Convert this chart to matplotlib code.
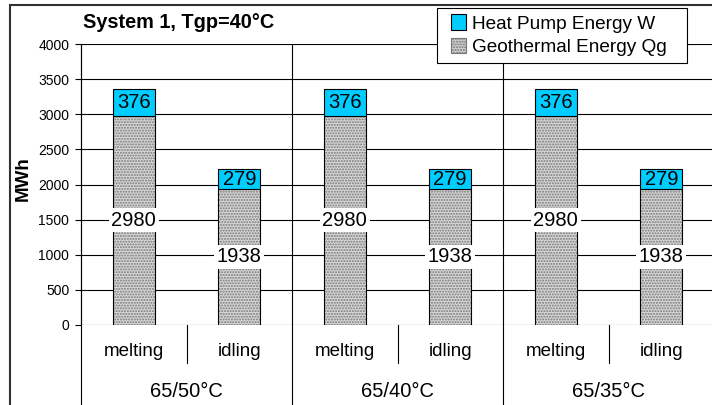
import matplotlib
matplotlib.use("Agg")
import matplotlib.pyplot as plt
from matplotlib.patches import Rectangle, Patch
from matplotlib.lines import Line2D
from matplotlib.legend_handler import HandlerPatch

plt.rcParams['font.family'] = ['Liberation Sans', 'DejaVu Sans']

# data
groups = ['65/50°C', '65/40°C', '65/35°C']
modes = ['melting', 'idling']
geothermal = [2980, 1938, 2980, 1938, 2980, 1938]
heat_pump = [376, 279, 376, 279, 376, 279]
yticks = [0, 500, 1000, 1500, 2000, 2500, 3000, 3500, 4000]

W, H = 712, 405
fig = plt.figure(figsize=(W / 100, H / 100), dpi=100)
ax = fig.add_axes([81 / W, (H - 325) / H, (714 - 81) / W, (325 - 44) / H])

x = [i + 0.5 for i in range(len(geothermal))]
cyan = '#00CCFF'
dots = '#777777'

# geothermal (stippled grey) bars
ax.bar(x, geothermal, width=0.4, color='#d8d8d8', edgecolor=dots,
       hatch='......', linewidth=0, zorder=3)
ax.bar(x, geothermal, width=0.4, fill=False, edgecolor='black', linewidth=0.8, zorder=4)
# heat pump bars on top
ax.bar(x, heat_pump, bottom=geothermal, width=0.4, color=cyan,
       edgecolor='black', linewidth=0.8, zorder=4)

for xi, g, h in zip(x, geothermal, heat_pump):
    ax.text(xi, g / 2, str(g), ha='center', va='center', fontsize=14.5, zorder=6,
            bbox=dict(boxstyle='square,pad=0.12', facecolor='white', edgecolor='none'))
    ax.text(xi, g + h / 2, str(h), ha='center', va='center', fontsize=14.5, zorder=6)

ax.set_xlim(0, 6)
ax.set_ylim(0, 4000)
ax.set_yticks(yticks)
ax.set_yticklabels([str(t) for t in yticks], fontsize=10)
ax.set_xticks([])
ax.tick_params(axis='y', direction='out', length=4.5, width=0.8, pad=4)
for t in yticks:
    ax.axhline(t, color='black', lw=0.8, zorder=2)
for s in ['top', 'right', 'bottom']:
    ax.spines[s].set_visible(False)
ax.spines['left'].set_linewidth(0.8)
ax.set_ylabel('MWh', fontsize=13.5, fontweight='bold')
ax.yaxis.set_label_coords(-49 / (714 - 81), 0.52)

# category axis below the plot
tr = ax.get_xaxis_transform()
for i, xi in enumerate(x):
    ax.text(xi, -0.096, modes[i % 2], transform=tr, ha='center', va='center', fontsize=13.5)
for j, g in enumerate(groups):
    ax.text(2 * j + 1, -0.238, g, transform=tr, ha='center', va='center', fontsize=14.5)
for j in range(4):
    ax.add_line(Line2D([2 * j, 2 * j], [-0.3, 1], transform=tr, color='black',
                       lw=0.8, clip_on=False, zorder=2))
for j in range(3):
    ax.add_line(Line2D([2 * j + 1, 2 * j + 1], [-0.135, 0], transform=tr, color='black',
                       lw=0.8, clip_on=False, zorder=2))

fig.text(83 / W, 1 - 22 / H, 'System 1, Tgp=40°C', fontsize=14.3, fontweight='bold',
         ha='left', va='center')


def small_square(legend, orig_handle, xdescent, ydescent, width, height, fontsize):
    s = 11.0
    return Rectangle((width - s - xdescent, (height - s) / 2 - ydescent), s, s)


handles = [Patch(facecolor=cyan, edgecolor='black', linewidth=0.8),
           Patch(facecolor='#d0d0d0', edgecolor=dots, hatch='......', linewidth=0.8)]
leg = fig.legend(handles, ['Heat Pump Energy W', 'Geothermal Energy Qg'],
                 loc='upper left', bbox_to_anchor=(437 / W, 1 - 8 / H),
                 fontsize=13.7, frameon=False,
                 handlelength=1.2, handleheight=0.8, handletextpad=0.3,
                 labelspacing=0.3, borderpad=0.35, borderaxespad=0,
                 handler_map={Patch: HandlerPatch(patch_func=small_square)})
# legend frame
fig.add_artist(Rectangle((437 / W, 1 - 63 / H), 250 / W, 55 / H, transform=fig.transFigure,
                         facecolor='white', edgecolor='black', lw=0.8, zorder=4))
leg.set_zorder(5)

# outer chart frame
fig.add_artist(Rectangle((10 / W, -0.1), 2, 1 - 5 / H + 0.1, transform=fig.transFigure,
                         fill=False, edgecolor='#303030', lw=1.5))

fig.savefig('out.png', dpi=100)
